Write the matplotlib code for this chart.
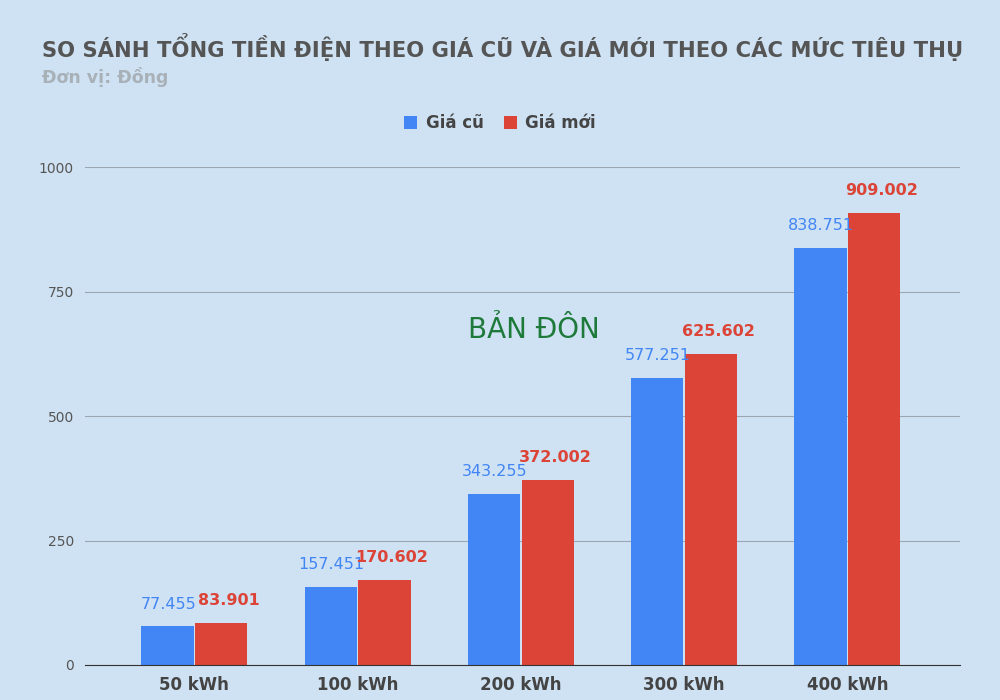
import matplotlib.pyplot as plt
import numpy as np

categories = ['50 kWh', '100 kWh', '200 kWh', '300 kWh', '400 kWh']
gia_cu = [77.455, 157.451, 343.255, 577.251, 838.751]
gia_moi = [83.901, 170.602, 372.002, 625.602, 909.002]
yticks = [0, 250, 500, 750, 1000]

bg = '#cfe2f3'
blue = '#4285f4'
red = '#db4437'

fig = plt.figure(figsize=(10, 7), dpi=100, facecolor=bg)
ax = fig.add_axes([0.085, 0.05, 0.875, 0.711], facecolor=bg)

x = np.arange(len(categories))
w = 0.32
ax.bar(x - w / 2 - 0.005, gia_cu, w, color=blue, label='Giá cũ')
ax.bar(x + w / 2 + 0.005, gia_moi, w, color=red, label='Giá mới')

for i in range(len(categories)):
    ax.text(x[i] - w / 2, gia_cu[i] + 30, f'{gia_cu[i]:.3f}', ha='center', va='bottom',
            color=blue, fontsize=11.5)
    ax.text(x[i] + w / 2 + 0.05, gia_moi[i] + 30, f'{gia_moi[i]:.3f}', ha='center', va='bottom',
            color=red, fontsize=11.5, fontweight='bold')

ax.set_xlim(-0.67, 4.69)
ax.set_ylim(0, 1000)
ax.set_yticks(yticks)
ax.set_yticklabels([str(t) for t in yticks], color='#555555', fontsize=10)
ax.set_xticks(x)
ax.set_xticklabels(categories, fontsize=12, fontweight='bold', color='#444444')
ax.grid(axis='y', color='#9aa7b3', linewidth=0.8)
ax.set_axisbelow(True)
for s in ['top', 'right', 'left']:
    ax.spines[s].set_visible(False)
ax.spines['bottom'].set_color('#333333')
ax.tick_params(length=0, pad=8)

fig.text(0.042, 0.933, 'SO SÁNH TỔNG TIỀN ĐIỆN THEO GIÁ CŨ VÀ GIÁ MỚI THEO CÁC MỨC TIÊU THỤ',
         fontsize=15.2, fontweight='bold', color='#555555', va='center')
fig.text(0.042, 0.89, 'Đơn vị: Đồng', fontsize=12.5, fontweight='bold', color='#a8b0b8', va='center')

fig.legend(loc='center', bbox_to_anchor=(0.5, 0.824), ncol=2, frameon=False,
           prop={'size': 12, 'weight': 'bold'},
           handlelength=0.8, handleheight=0.8, columnspacing=1.2, handletextpad=0.5,
           labelcolor='#444444')

fig.text(0.468, 0.528, 'BẢN ĐÔN', fontsize=20, color='#1e7a3a', va='center')

fig.savefig('out.png', dpi=100, facecolor=bg)
